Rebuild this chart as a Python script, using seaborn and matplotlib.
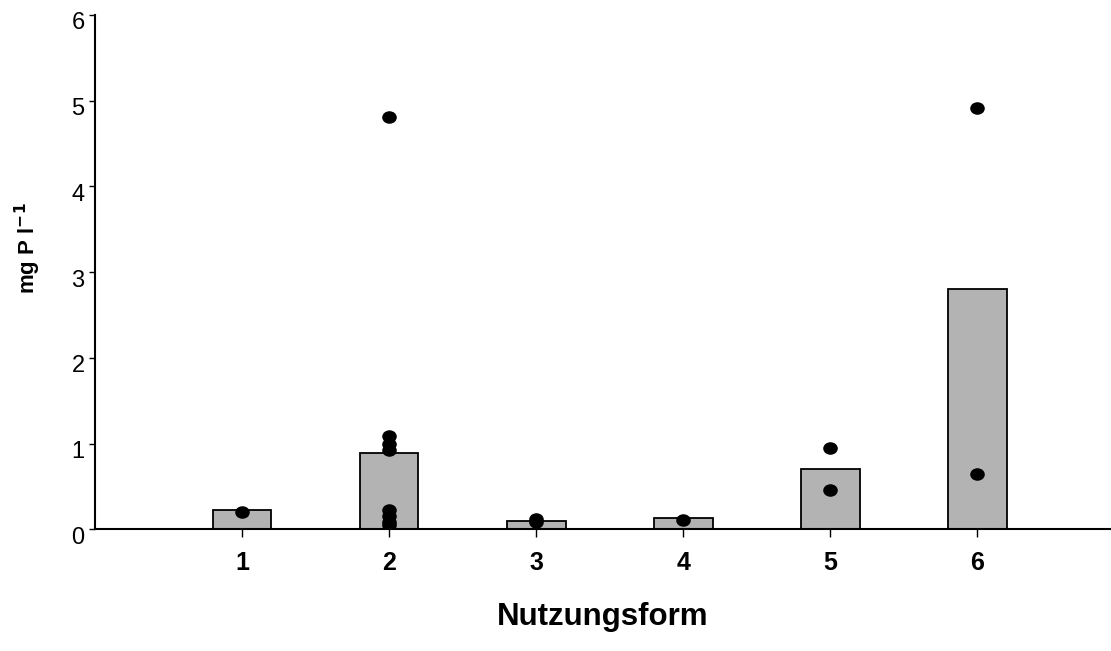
import matplotlib
matplotlib.use('Agg')
import matplotlib.pyplot as plt
import matplotlib.transforms as mtransforms
from matplotlib.path import Path
import seaborn as sns
import pandas as pd

# Nutzungsform categories
categories = ['1', '2', '3', '4', '5', '6']
# bar heights (mean per category)
bar_values = [0.22, 0.89, 0.10, 0.13, 0.70, 2.80]
# single measurements per category
points_1 = [0.20]
points_2 = [4.81, 1.09, 1.00, 0.92, 0.22, 0.16, 0.09, 0.05]
points_3 = [0.12, 0.08]
points_4 = [0.11]
points_5 = [0.95, 0.46]
points_6 = [4.91, 0.645]
y_ticks = [0, 1, 2, 3, 4, 5, 6]

all_points = [points_1, points_2, points_3, points_4, points_5, points_6]
pts = pd.DataFrame({
    'Nutzungsform': [c for c, p in zip(categories, all_points) for _ in p],
    'mgP': [v for p in all_points for v in p],
})
bars = pd.DataFrame({'Nutzungsform': categories, 'mgP': bar_values})

sns.set_style('ticks')
plt.rcParams['font.family'] = ['Liberation Sans', 'DejaVu Sans']

fig = plt.figure(figsize=(11.11, 6.51), dpi=100)
ax = fig.add_axes([0.0855, 0.187, 0.9145, 0.79])

sns.barplot(data=bars, x='Nutzungsform', y='mgP', order=categories,
            color='#b3b3b3', saturation=1, edgecolor='black', linewidth=1.3,
            width=0.4, ax=ax)

circ = Path.unit_circle()
ellipse = Path(circ.vertices * [1.0, 0.86], circ.codes)
sns.stripplot(data=pts, x='Nutzungsform', y='mgP', order=categories,
              jitter=False, color='black', marker=ellipse, size=10.5,
              linewidth=0, ax=ax, zorder=5)

ax.set_xlim(-1.0, 5.91)
ax.set_ylim(0, 6)
ax.set_yticks(y_ticks)
ax.set_yticklabels([str(t) for t in y_ticks], fontsize=17)
ax.set_xticks(range(len(categories)))
ax.set_xticklabels(categories, fontsize=18, fontweight='bold')

for side in ['top', 'right']:
    ax.spines[side].set_visible(False)
for side in ['left', 'bottom']:
    ax.spines[side].set_linewidth(1.5)
    ax.spines[side].set_color('black')

ax.tick_params(axis='y', length=4.5, width=1, pad=3, colors='black')
ax.tick_params(axis='x', length=6, width=1, pad=10, colors='black')

# y tick labels sit slightly below their ticks
offset = mtransforms.ScaledTranslation(0, -6 / 100, fig.dpi_scale_trans)
for lbl in ax.get_yticklabels():
    lbl.set_transform(lbl.get_transform() + offset)

ax.set_xlabel('Nutzungsform', fontsize=22.5, fontweight='bold', color='black')
ax.xaxis.set_label_coords(0.5, -0.142)
ax.set_ylabel(r'mg P l$^{\mathbf{-1}}$', fontsize=16, fontweight='bold',
              color='black', va='center')
ax.yaxis.set_label_coords(-0.066, 0.547)

fig.savefig('out.png', dpi=100)
